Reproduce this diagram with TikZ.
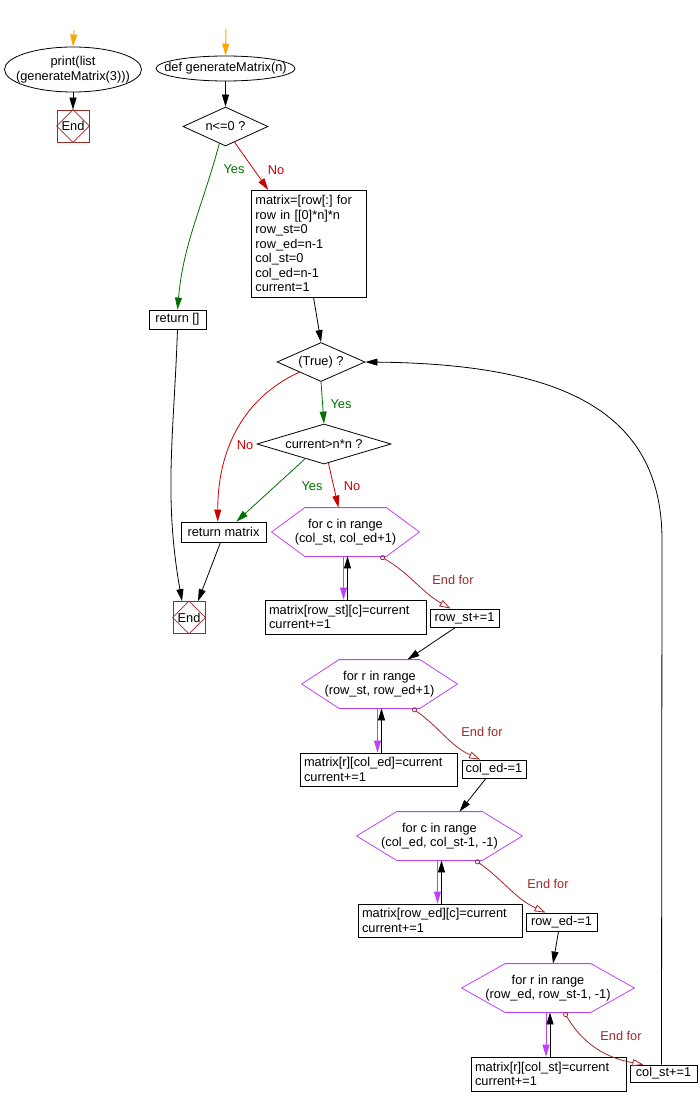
\documentclass[tikz,border=0pt]{standalone}
\usepackage{fontspec}
\setmainfont{Liberation Sans}
\usetikzlibrary{calc}
\usetikzlibrary{arrows.meta}
\usetikzlibrary{shapes.geometric}

\definecolor{yesgreen}{RGB}{0,110,0}
\definecolor{nored}{RGB}{204,0,0}
\definecolor{endred}{RGB}{160,40,40}
\definecolor{forviolet}{RGB}{191,64,255}
\definecolor{startorange}{RGB}{255,165,0}

\begin{document}
\begin{tikzpicture}[x=1pt,y=1pt,line width=0.8pt,
    font=\fontsize{12.8}{14.5}\selectfont\frenchspacing,
    oval/.style={inner sep=0,align=center},
    cond/.style={draw,diamond,aspect=3,inner sep=0},
    proc/.style={draw,inner sep=0},
    stmts/.style={draw,align=left,inner xsep=4pt,inner ysep=2pt},
    loophex/.style={inner sep=0,minimum height=48,align=center},
    endbox/.style={draw=endred,minimum size=32,inner sep=0},
    flow/.style={-{Triangle[length=12pt,width=7pt]}},
    startflow/.style={flow,startorange,line width=1pt},
    yesflow/.style={flow,yesgreen},
    noflow/.style={flow,nored},
    bodyflow/.style={flow,forviolet},
    endfor/.style={endred,{Circle[open,length=5pt]}-{Triangle[open,length=11pt,width=7pt]}},
    yeslbl/.style={text=yesgreen},
    nolbl/.style={text=nored},
    endlbl/.style={text=endred}]
    \path[use as bounding box] (0,0) rectangle (699,-1105);
    % Main program.
    \coordinate (s1) at (74,-30);
    \node[oval,minimum width=137,minimum height=45] (main) at (73,-69.5) {print(list\\(generateMatrix(3)))};
    \node[endbox] (mainend) at (73,-126) {End};
    % Function head.
    \coordinate (s2) at (226,-29);
    \node[oval,minimum width=139,minimum height=25] (func) at (225.5,-68.5) {def generateMatrix(n)};
    \node[cond,minimum width=85,minimum height=39] (ifn) at (225.5,-126.5) {n<=0 ?};
    \node[stmts,anchor=north west,text width=107,minimum height=107] (init) at (251,-190) {matrix=[row[:] for\\row in [[0]*n]*n\\row\_st=0\\row\_ed=n-1\\col\_st=0\\col\_ed=n-1\\current=1};
    \node[proc,minimum width=57,minimum height=19] (ret1) at (177.5,-319.5) {return []};
    \node[cond,minimum width=88,minimum height=39] (loop) at (321,-362) {(True) ?};
    \node[cond,minimum width=134,minimum height=40] (full) at (324,-444) {current>n*n ?};
    \node[proc,minimum width=85,minimum height=20] (ret2) at (223.5,-532) {return matrix};
    \node[endbox] (fnend) at (189,-617.5) {End};
    % For loops.
    \node[loophex,minimum width=147] (f1) at (345.5,-532) {for c in range\\(col\_st, col\_ed+1)};
    \node[stmts,text width=153,minimum height=34] (b1) at (345.5,-617) {matrix[row\_st][c]=current\\current+=1};
    \node[proc,minimum width=69,minimum height=18] (rs) at (464.5,-618) {row\_st+=1};
    \node[loophex,minimum width=155] (f2) at (379.5,-684) {for r in range\\(row\_st, row\_ed+1)};
    \node[stmts,text width=149,minimum height=33] (b2) at (378.5,-769.5) {matrix[r][col\_ed]=current\\current+=1};
    \node[proc,minimum width=64,minimum height=18] (ce) at (494,-769) {col\_ed-=1};
    \node[loophex,minimum width=165] (f3) at (439.5,-836) {for c in range\\(col\_ed, col\_st-1, -1)};
    \node[stmts,text width=156,minimum height=33] (b3) at (440,-920.5) {matrix[row\_ed][c]=current\\current+=1};
    \node[proc,minimum width=71,minimum height=18] (re) at (561.5,-922) {row\_ed-=1};
    \node[loophex,minimum width=172] (f4) at (548,-988) {for r in range\\(row\_ed, row\_st-1, -1)};
    \node[stmts,text width=147,minimum height=34] (b4) at (548.5,-1074) {matrix[r][col\_st]=current\\current+=1};
    \node[proc,minimum width=67,minimum height=17] (cs) at (663.5,-1073.5) {col\_st+=1};
    % Outlines.
    \draw (main.center) ellipse [x radius=68.5, y radius=22.5];
    \draw (func.center) ellipse [x radius=69.5, y radius=12.5];
    \foreach \e in {mainend,fnend}
    \draw[endred,line width=0.6pt] (\e.north) -- (\e.east) -- (\e.south) -- (\e.west) -- cycle;
    \foreach \h/\d in {f1/33,f2/37.5,f3/40,f4/43.5}
    \draw[forviolet] ([xshift=\d pt]\h.north west) -- ([xshift=-\d pt]\h.north east) -- (\h.east) -- ([xshift=-\d pt]\h.south east) -- ([xshift=\d pt]\h.south west) -- (\h.west) -- cycle;
    % Connectors.
    \draw[startflow] (s1) -- (main.north);
    \draw[startflow] (s2) -- (func.north);
    \draw[flow] (main.south) -- (mainend.north);
    \draw[flow] (func.south) -- (ifn.north);
    \draw[yesflow] (ifn.-110) to[out=-105,in=85] (ret1.north);
    \draw[noflow] (ifn.-60) -- (init.127);
    \draw[flow] (init.-85) -- (loop.north);
    \draw[yesflow] (loop.south) -- (full.north);
    \draw[noflow] (loop.-155) to[out=-155,in=90] (ret2.119);
    \draw[yesflow] (full.-142) -- (ret2.39);
    \draw[noflow] (full.-77) -- ([xshift=-7pt]f1.north);
    \draw[flow] (ret1.south) to[out=-92,in=100] ([xshift=-7pt]fnend.north);
    \draw[flow] ([xshift=-3pt]ret2.south) -- ([xshift=9pt]fnend.north);
    \foreach \i in {1,...,4} {
    \draw[bodyflow] ($(f\i.south)+(-2,0)$) -- ($(f\i.south |- b\i.north)+(-2,0)$);
    \draw[flow] ($(f\i.south |- b\i.north)+(2,0)$) -- ($(f\i.south)+(2,0)$);
    }
    \draw[endfor] ([xshift=-39pt]f1.south east) to[out=-30,in=150] ([xshift=-14pt]rs.north);
    \draw[endfor] ([xshift=-45pt]f2.south east) to[out=-35,in=155] ([xshift=-14pt]ce.north);
    \draw[endfor] ([xshift=-47pt]f3.south east) to[out=-35,in=155] ([xshift=-16pt]re.north);
    \draw[endfor] ([xshift=-70pt]f4.south east) to[out=-60,in=170] ([xshift=-20pt]cs.north);
    \draw[flow] ([xshift=-9pt]rs.south) -- ([xshift=28pt]f2.north);
    \draw[flow] ([xshift=-8pt]ce.south) -- ([xshift=20pt]f3.north);
    \draw[flow] ([xshift=-3pt]re.south) -- ([xshift=5pt]f4.north);
    \draw[flow] ([xshift=-2pt]cs.north) -- (662,-540) .. controls (662,-410) and (560,-364) .. (loop.east);
    % Labels.
    \node[yeslbl] (yes1) at (234,-169) {Yes};
    \node[nolbl] (no1) at (276,-170) {No};
    \node[yeslbl] (yes2) at (341,-404) {Yes};
    \node[nolbl] (no2) at (245,-445) {No};
    \node[yeslbl] (yes3) at (312,-486) {Yes};
    \node[nolbl] (no3) at (352,-486) {No};
    \node[endlbl] (ef1) at (453,-580) {End for};
    \node[endlbl] (ef2) at (482,-732) {End for};
    \node[endlbl] (ef3) at (548,-884) {End for};
    \node[endlbl] (ef4) at (621,-1036) {End for};
\end{tikzpicture}
\end{document}
